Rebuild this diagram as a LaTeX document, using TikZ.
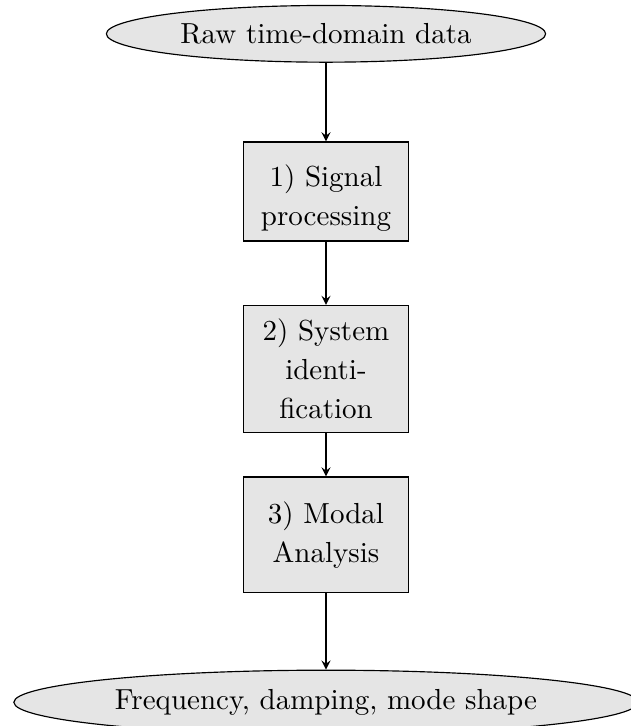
\documentclass[tikz,border=0pt]{standalone}
\usepackage{amsmath}
\usepackage{amssymb}
\usepackage{tikz}
\usetikzlibrary{shapes.geometric}

\tikzset{
    stage/.style={draw, fill=gray!20, text width=50pt, align=center, font=\fontsize{10}{13.4}\selectfont},
    terminal/.style={draw, ellipse, fill=gray!20}
}

\begin{document}
\begin{tikzpicture}
        \useasboundingbox (0,0) rectangle (7.634,-8.797);
        \node[terminal] (raw) at (3.95,-0.41) {Raw time-domain data};
        \foreach \n/\y/\h/\th/\t in {s1/-2.32/33.3pt/12pt/{1) Signal processing}, s2/-4.47/43.7pt/7.5pt/{2) System identification}, s3/-6.48/39.8pt/7.5pt/{3) Modal Analysis}}{
            \node[stage, minimum height=\h, text height=\th] (\n) at (3.95,\y) {\t};
        }
        \node[terminal] (out) at (3.95,-8.51) {Frequency, damping, mode shape};
        \foreach \a/\b in {raw/s1, s1/s2, s2/s3, s3/out}{
            \draw[->, >=stealth] (\a) -- (\b);
        }
    \end{tikzpicture}
\end{document}
